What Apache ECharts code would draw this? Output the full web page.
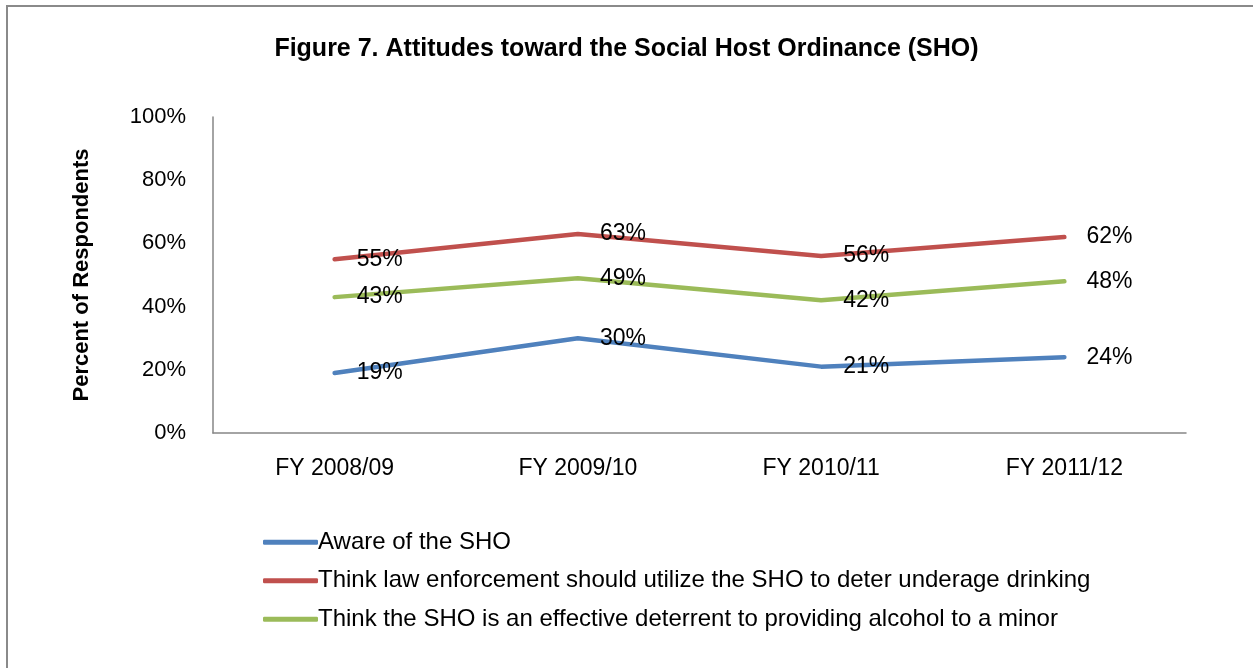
<!DOCTYPE html>
<html><head><meta charset="utf-8">
<script src="https://cdn.jsdelivr.net/npm/echarts@6/dist/echarts.min.js"></script>
<style>
html,body{margin:0;padding:0;background:#fff;}
#frame{position:absolute;left:6px;top:5px;width:1260px;height:680px;border:2px solid #8a8a8a;box-sizing:border-box;}
#c{position:absolute;left:0;top:0;width:1253px;height:668px;}
</style></head>
<body>
<div id="frame"></div>
<div id="c"></div>
<script>
const categories = ['FY 2008/09','FY 2009/10','FY 2010/11','FY 2011/12'];
const aware = [19, 30, 21, 24];
const enforce = [55, 63, 56, 62];
const deterrent = [43, 49, 42, 48];
const seriesNames = ['Aware of the SHO','Think law enforcement should utilize the SHO to deter underage drinking','Think the SHO is an effective deterrent to providing alcohol to a minor'];
const colors = ['#4F81BD','#C0504D','#9BBB59'];
const FONT = 'Liberation Sans';
const chart = echarts.init(document.getElementById('c'), null, {renderer:'canvas'});
function mk(name, data, color){
  return {name, type:'line', data, symbol:'circle', symbolSize:0.1, showSymbol:true, smooth:false,
    lineStyle:{color, width:4.5, cap:'round', join:'round'}, itemStyle:{color},
    label:{show:true, position:'right', distance:22, formatter:p=>p.value+'%', color:'#000', fontSize:23, fontFamily:FONT},
    emphasis:{disabled:true}, z:2};
}
chart.setOption({
  animation:false,
  title:{text:'Figure 7. Attitudes toward the Social Host Ordinance (SHO)', left:'center', top:32, textStyle:{fontFamily:FONT, fontWeight:'bold', fontSize:25, color:'#000'}},
  grid:{left:213, top:117, width:973, height:316, containLabel:false},
  xAxis:{type:'category', data:categories, boundaryGap:true,
    axisLine:{lineStyle:{color:'#868686', width:1.5}}, axisTick:{show:false},
    axisLabel:{color:'#000', fontSize:23, fontFamily:FONT, margin:24}},
  yAxis:{type:'value', min:0, max:100, interval:20,
    name:'Percent of Respondents', nameLocation:'middle', nameGap:120, nameRotate:90,
    nameTextStyle:{fontFamily:FONT, fontWeight:'bold', fontSize:22, color:'#000'},
    axisLine:{show:true, lineStyle:{color:'#868686', width:1.5}}, axisTick:{show:false}, splitLine:{show:false},
    axisLabel:{color:'#000', fontSize:22, fontFamily:FONT, margin:27, formatter:'{value}%'}},
  legend:{orient:'vertical', left:258, top:525, itemWidth:55, itemHeight:5, itemGap:14, icon:'roundRect',
    data:seriesNames, textStyle:{fontFamily:FONT, fontSize:24, color:'#000', padding:[0,0,0,-5], lineHeight:24.5}, selectedMode:false},
  series:[mk(seriesNames[0], aware, colors[0]), mk(seriesNames[1], enforce, colors[1]), mk(seriesNames[2], deterrent, colors[2])]
});
</script>
</body></html>
